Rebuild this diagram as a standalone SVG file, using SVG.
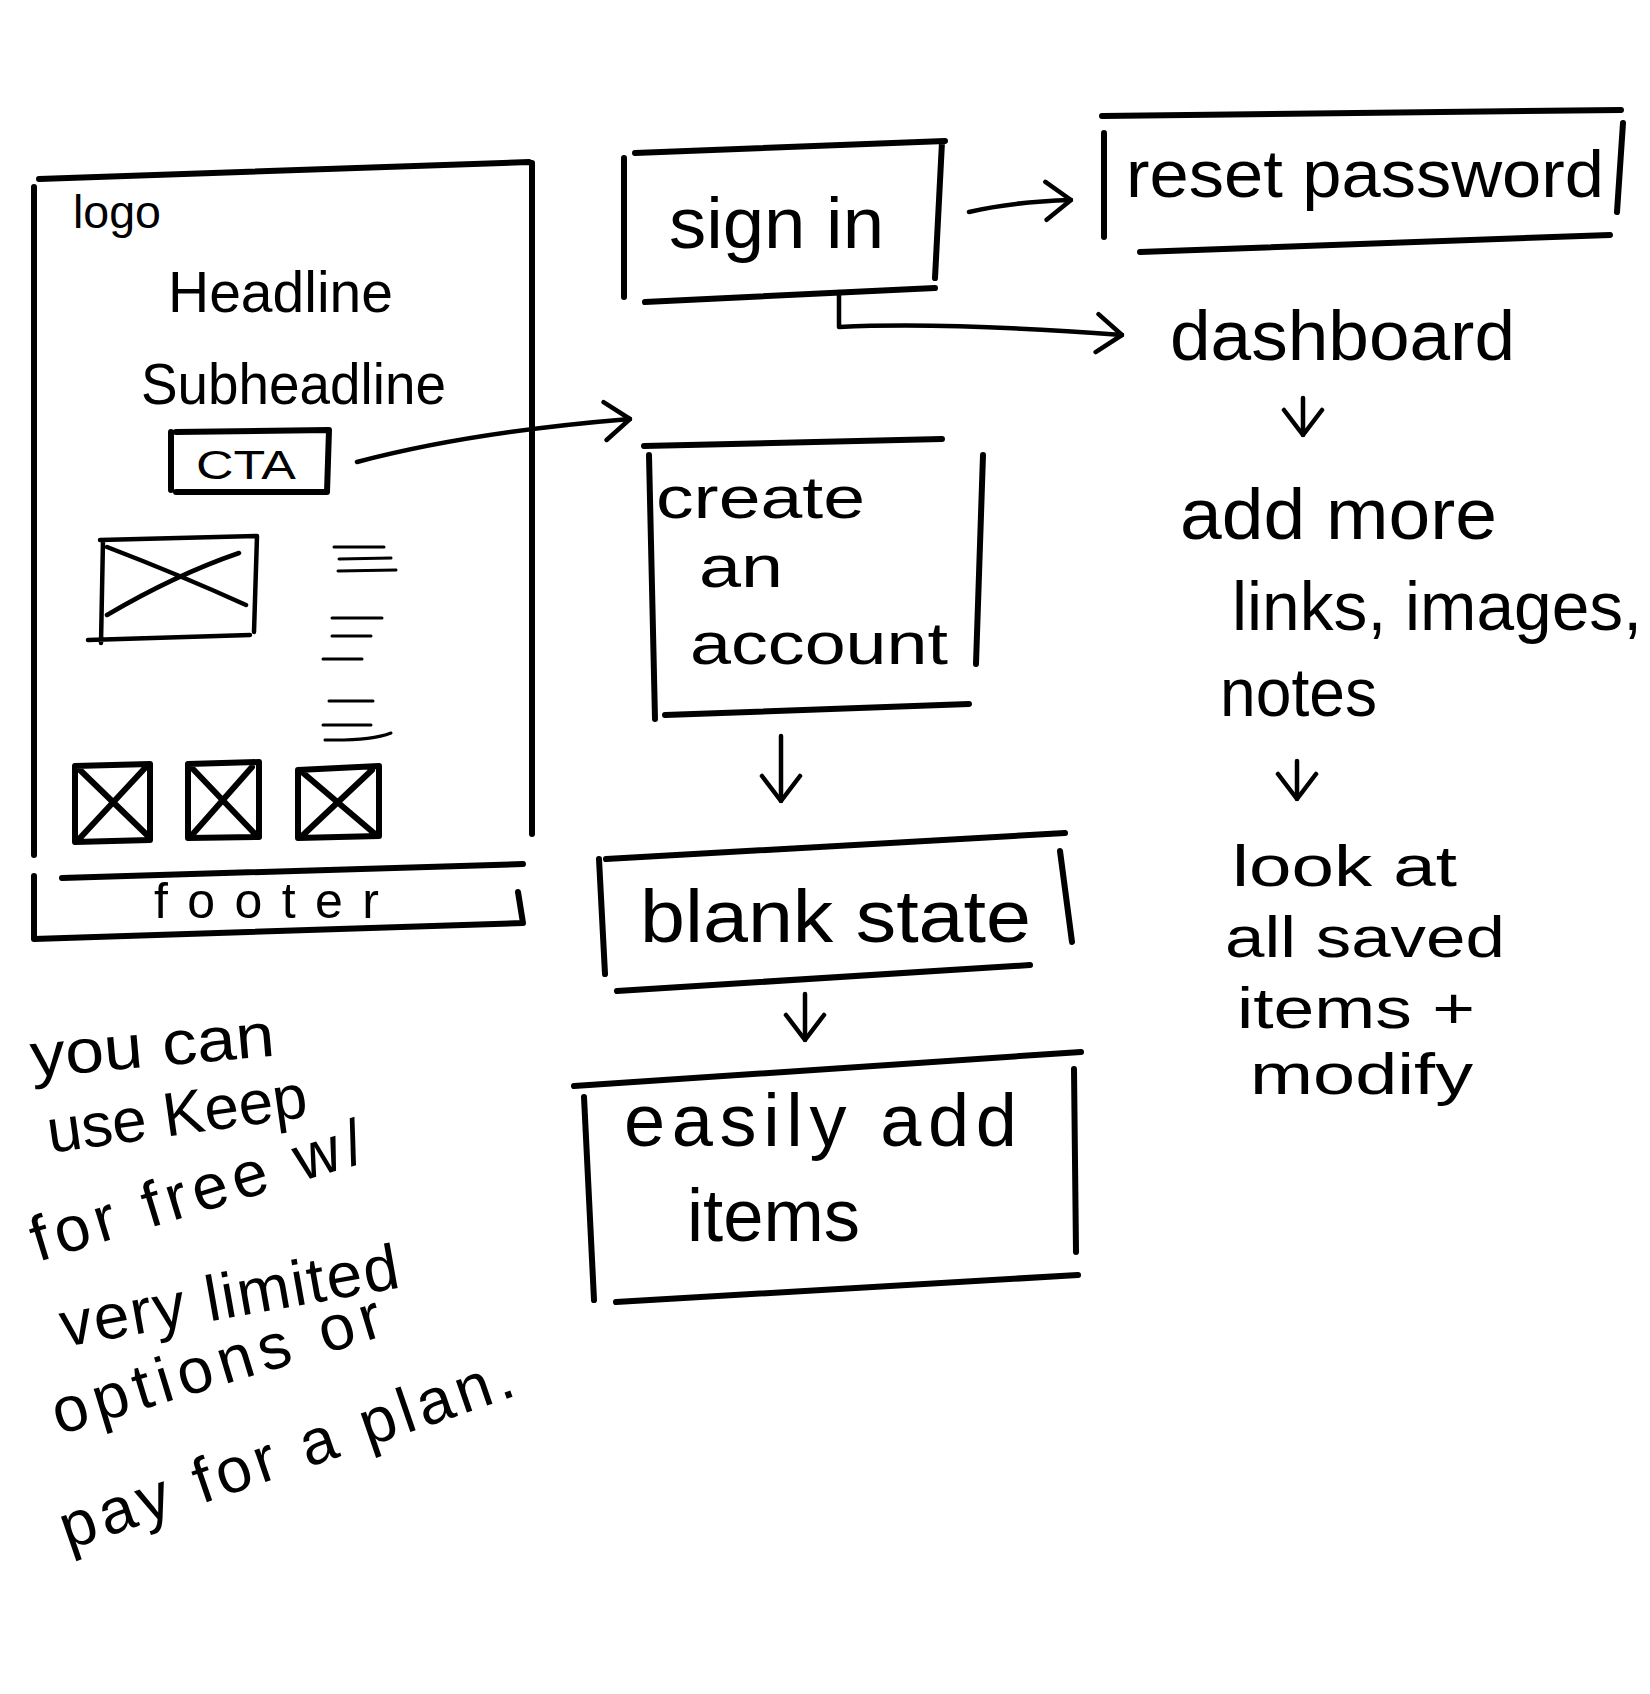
<svg xmlns="http://www.w3.org/2000/svg" width="1650" height="1694" viewBox="0 0 1650 1694">
<style>
.ln{fill:none;stroke:#000;stroke-width:6;stroke-linecap:round;stroke-linejoin:round}
.md{fill:none;stroke:#000;stroke-width:4.5;stroke-linecap:round;stroke-linejoin:round}
.th{fill:none;stroke:#000;stroke-width:3;stroke-linecap:round}
.cn{fill:none;stroke:#000;stroke-width:4.5;stroke-linecap:round;stroke-linejoin:round}
text{font-family:"Liberation Sans",Arial,sans-serif;fill:#000}
</style>
<defs>
<marker id="ah" viewBox="0 0 30 44" markerWidth="30" markerHeight="44" refX="28" refY="22" orient="auto" markerUnits="userSpaceOnUse">
<path d="M3,3 L28,22 L3,41" fill="none" stroke="#000" stroke-width="4.5" stroke-linecap="round" stroke-linejoin="round"/>
</marker>
</defs>
<rect width="1650" height="1694" fill="#fff"/>

<g id="landing-page">
<path class="ln" d="M39,179 L529,162 M34,187 L34,855 M532,163 L532,834"/>
<text x="73" y="228" font-size="46" textLength="88" lengthAdjust="spacingAndGlyphs">logo</text>
<text x="168" y="312" font-size="58" textLength="225" lengthAdjust="spacingAndGlyphs">Headline</text>
<text x="141" y="404" font-size="58" textLength="305" lengthAdjust="spacingAndGlyphs">Subheadline</text>
<g id="image-main">
<path class="md" d="M100,540 L257,536 L254,632 M103,540 L101,643 M88,640 L250,635 M107,547 Q180,575 246,605 M107,615 Q175,575 239,553"/>
</g>
<g id="text-lines">
<path class="th" d="M334,547 L384,547 M339,559 L391,558 M338,571 L396,570 M332,618 L382,618 M332,636 L371,636 M323,659 L362,659 M329,701 L373,701 M323,725 L371,725 M325,740 Q370,741 391,733"/>
</g>
<g id="thumbs">
<path class="ln" d="M75,766 L150,764 L150,840 L75,842 Z M80,770 L148,836 M80,838 L145,768"/>
<path class="ln" d="M188,764 L259,762 L259,837 L188,838 Z M192,768 L255,834 M192,835 L252,767"/>
<path class="ln" d="M298,770 L379,766 L379,836 L298,838 Z M302,772 L375,834 M302,836 L372,770"/>
</g>
<g id="footer">
<path class="ln" d="M62,878 L523,864 M34,876 L34,939 L523,923 L518,892"/>
<text x="154" y="918" font-size="50" textLength="225" lengthAdjust="spacing">footer</text>
</g>
</g>

<g id="cta">
<path class="ln" d="M171,432 L171,490 M176,432 L329,430 L327,492 L176,492"/>
<text x="196" y="479" font-size="40" textLength="100" lengthAdjust="spacingAndGlyphs">CTA</text>
</g>

<g id="sign-in">
<path class="ln" d="M635,153 L945,141 M624,158 L624,297 M942,142 L935,278 M645,302 L935,288"/>
<text x="669" y="248" font-size="72" textLength="215" lengthAdjust="spacingAndGlyphs">sign in</text>
</g>

<g id="reset-password">
<path class="ln" d="M1102,116 L1621,110 M1104,133 L1104,237 M1623,123 L1617,212 M1140,252 L1610,235"/>
<text x="1126" y="197" font-size="66" textLength="478" lengthAdjust="spacingAndGlyphs">reset password</text>
</g>

<g id="dashboard">
<text x="1170" y="360" font-size="70" textLength="345" lengthAdjust="spacingAndGlyphs">dashboard</text>
</g>

<g id="add-more">
<text x="1180" y="539" font-size="72" textLength="317" lengthAdjust="spacingAndGlyphs">add more</text>
<text x="1232" y="630" font-size="68" textLength="410" lengthAdjust="spacingAndGlyphs">links, images,</text>
<text x="1220" y="716" font-size="68" textLength="157" lengthAdjust="spacingAndGlyphs">notes</text>
</g>

<g id="look-at">
<text x="1232" y="886" font-size="58" textLength="225" lengthAdjust="spacingAndGlyphs">look at</text>
<text x="1225" y="957" font-size="58" textLength="280" lengthAdjust="spacingAndGlyphs">all saved</text>
<text x="1237" y="1028" font-size="57" textLength="238" lengthAdjust="spacingAndGlyphs">items +</text>
<text x="1250" y="1094" font-size="57" textLength="223" lengthAdjust="spacingAndGlyphs">modify</text>
</g>

<g id="create-account">
<path class="ln" d="M644,446 L942,439 M649,455 L655,719 M983,455 L976,664 M665,715 L969,704"/>
<text x="656" y="518" font-size="60" textLength="209" lengthAdjust="spacingAndGlyphs">create</text>
<text x="699" y="587" font-size="60" textLength="84" lengthAdjust="spacingAndGlyphs">an</text>
<text x="690" y="664" font-size="60" textLength="258" lengthAdjust="spacingAndGlyphs">account</text>
</g>

<g id="blank-state">
<path class="ln" d="M606,859 L1065,833 M599,859 L605,974 M1060,851 L1072,942 M617,991 L1030,965"/>
<text x="640" y="942" font-size="74" textLength="391" lengthAdjust="spacingAndGlyphs">blank state</text>
</g>

<g id="easily-add-items">
<path class="ln" d="M574,1086 L1081,1052 M584,1097 L594,1300 M1074,1069 L1076,1252 M616,1302 L1078,1275"/>
<text x="624" y="1146" font-size="74" textLength="393" lengthAdjust="spacing">easily add</text>
<text x="687" y="1241" font-size="74" textLength="173" lengthAdjust="spacingAndGlyphs">items</text>
</g>

<g id="pricing-note">
<text x="32" y="1077" font-size="62" textLength="245" lengthAdjust="spacingAndGlyphs" transform="rotate(-5 32 1077)">you can</text>
<text x="50" y="1153" font-size="62" textLength="262" lengthAdjust="spacingAndGlyphs" transform="rotate(-8 50 1153)">use Keep</text>
<text x="38" y="1262" font-size="64" textLength="345" lengthAdjust="spacing" transform="rotate(-17 38 1262)">for free w/</text>
<text x="64" y="1347" font-size="64" textLength="343" lengthAdjust="spacing" transform="rotate(-10 64 1347)">very limited</text>
<text x="59" y="1435" font-size="64" textLength="342" lengthAdjust="spacing" transform="rotate(-17 59 1435)">options or</text>
<text x="68" y="1550" font-size="64" textLength="476" lengthAdjust="spacing" transform="rotate(-19 68 1550)">pay for a plan.</text>
</g>

<g id="connectors">
<path class="cn" d="M357,462 Q470,432 630,419" marker-end="url(#ah)"/>
<path class="cn" d="M969,212 Q1010,202 1071,200" marker-end="url(#ah)"/>
<path class="cn" d="M839,292 L839,327 Q950,322 1122,335" marker-end="url(#ah)"/>
<path class="cn" d="M1303,398 L1303,435" marker-end="url(#ah)"/>
<path class="cn" d="M1297,761 L1297,799" marker-end="url(#ah)"/>
<path class="cn" d="M781,736 L781,801" marker-end="url(#ah)"/>
<path class="cn" d="M805,994 L805,1040" marker-end="url(#ah)"/>
</g>
</svg>
